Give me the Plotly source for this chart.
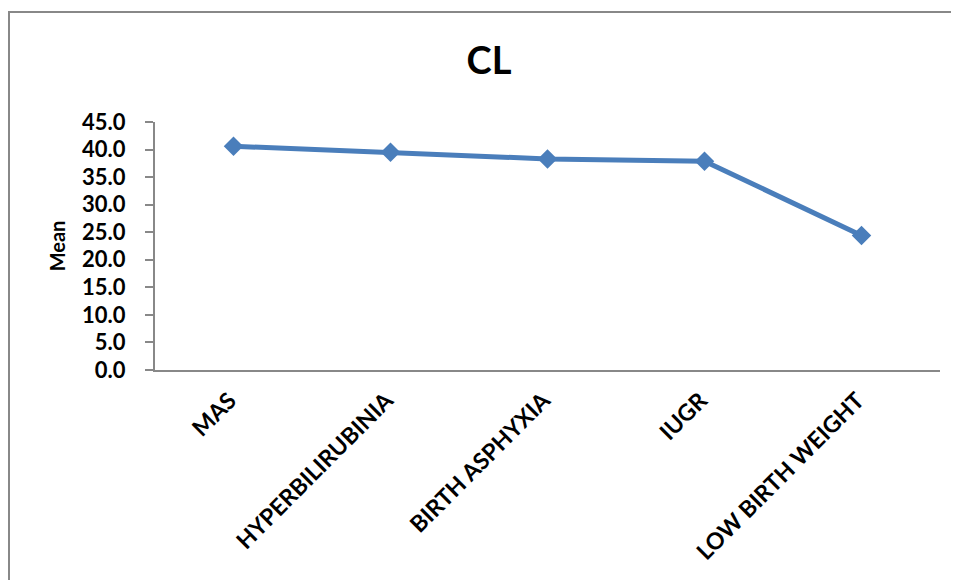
import plotly.graph_objects as go

categories = ["MAS", "HYPERBILIRUBINIA", "BIRTH ASPHYXIA", "IUGR", "LOW BIRTH WEIGHT"]
means = [40.6, 39.5, 38.3, 37.9, 24.4]
y_ticks = [0, 5, 10, 15, 20, 25, 30, 35, 40, 45]

FONT = "Lato"
W, H = 951, 572  # page body has an 8px margin
fig = go.Figure()
fig.add_trace(go.Scatter(
    x=categories, y=means, mode="lines+markers",
    line=dict(color="#4A7EBB", width=5),
    marker=dict(symbol="diamond", size=15, color="#4A7EBB"),
    showlegend=False,
))

fig.update_layout(
    width=W, height=H,
    margin=dict(l=147, r=19, t=114, b=210),
    paper_bgcolor="white", plot_bgcolor="white",
    title=dict(text="<b>CL</b>", font=dict(family=FONT, size=38, color="black"),
               x=481/W, xref="container", xanchor="center",
               y=1-53/H, yref="container", yanchor="middle"),
    font=dict(family=FONT, color="black"),
    xaxis=dict(
        range=[-0.5, len(categories) - 0.5],
        showline=True, linecolor="#888888", linewidth=2,
        showgrid=False, ticks="", tickangle=-45,
        tickfont=dict(family=FONT, size=23, color="black", weight="bold"),
        ticklabelstandoff=6, ticklabelshift=-4,
        zeroline=False,
    ),
    yaxis=dict(
        range=[0, 45], tickvals=y_ticks, tickformat=".1f",
        showline=True, linecolor="#888888", linewidth=2,
        showgrid=False, ticks="outside", ticklen=8, tickcolor="#888888", tickwidth=2,
        tickfont=dict(family=FONT, size=22, color="black", weight="bold"),
        ticklabelstandoff=15,
        zeroline=False,
        title=dict(text="<b>Mean</b>", font=dict(family=FONT, size=20, color="black"), standoff=11),
    ),
    shapes=[dict(type="rect", xref="paper", yref="paper",
                 x0=(9-155)/785, x1=1.2, y0=-1.2, y1=(370-12)/248,
                 line=dict(color="#888888", width=2), fillcolor="rgba(0,0,0,0)", layer="below")],
)

fig.write_html("out.html")
